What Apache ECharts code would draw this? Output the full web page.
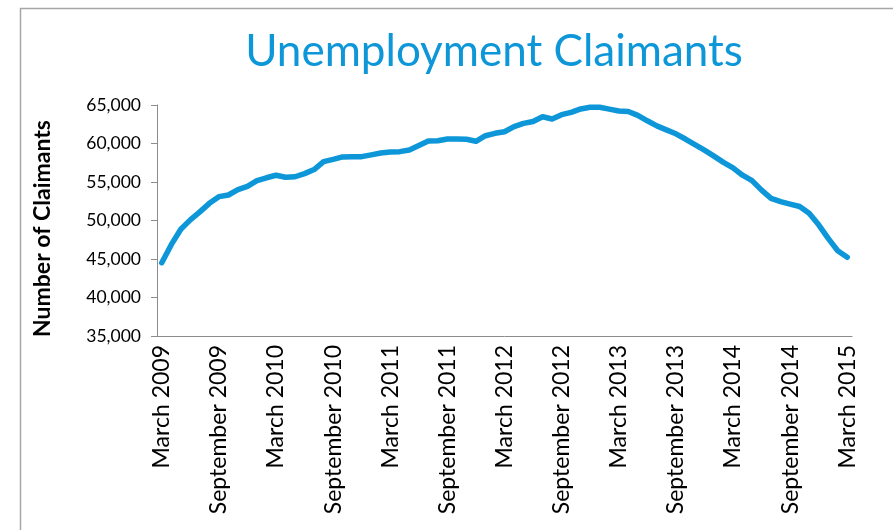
<!DOCTYPE html>
<html><head><meta charset="utf-8">
<script src="https://cdn.jsdelivr.net/npm/echarts@6/dist/echarts.min.js"></script>
<style>html,body{margin:0;padding:0;background:#fff}#c{width:893px;height:530px}</style>
</head><body><div id="c"></div>
<script>
const months = [
 'March 2009','April 2009','May 2009','June 2009','July 2009','August 2009','September 2009','October 2009','November 2009','December 2009','January 2010','February 2010',
 'March 2010','April 2010','May 2010','June 2010','July 2010','August 2010','September 2010','October 2010','November 2010','December 2010','January 2011','February 2011',
 'March 2011','April 2011','May 2011','June 2011','July 2011','August 2011','September 2011','October 2011','November 2011','December 2011','January 2012','February 2012',
 'March 2012','April 2012','May 2012','June 2012','July 2012','August 2012','September 2012','October 2012','November 2012','December 2012','January 2013','February 2013',
 'March 2013','April 2013','May 2013','June 2013','July 2013','August 2013','September 2013','October 2013','November 2013','December 2013','January 2014','February 2014',
 'March 2014','April 2014','May 2014','June 2014','July 2014','August 2014','September 2014','October 2014','November 2014','December 2014','January 2015','February 2015',
 'March 2015'
];
const claimants = [
 44520, 46860, 48860, 50080, 51120, 52230, 53100, 53310, 54010, 54440, 55180, 55550,
 55880, 55610, 55680, 56090, 56620, 57650, 57940, 58260, 58290, 58290, 58520, 58770,
 58900, 58940, 59160, 59740, 60330, 60350, 60580, 60580, 60550, 60290, 61010, 61320,
 61530, 62200, 62620, 62860, 63470, 63180, 63740, 64040, 64490, 64700, 64700, 64470,
 64220, 64160, 63650, 62950, 62290, 61770, 61260, 60580, 59860, 59130, 58360, 57550,
 56830, 55880, 55180, 53940, 52870, 52440, 52120, 51820, 50940, 49440, 47680, 46070,
 45220
];
const yMin = 35000, yMax = 65000, yStep = 5000;
const titleText = 'Unemployment Claimants';
const yName = 'Number of Claimants';

const chart = echarts.init(document.getElementById('c'), null, {renderer: 'canvas'});
const gray = '#8c8c8c';
chart.setOption({
  animation: false,
  backgroundColor: '#fff',
  title: {
    text: titleText, left: 489, top: 25, textAlign: 'center',
    textStyle: {fontFamily: 'Lato', fontSize: 44, fontWeight: 'normal', color: '#0d96d8'}
  },
  graphic: [{
    type: 'rect', silent: true, left: 18, top: 6,
    shape: {x: 0, y: 0, width: 900, height: 600},
    style: {fill: 'none', stroke: '#a6a6a6', lineWidth: 1.5}
  }],
  grid: {left: 157, right: 41, top: 105, bottom: 194},
  xAxis: [{
    type: 'category', data: months, boundaryGap: true,
    axisLine: {lineStyle: {color: gray, width: 1}},
    axisTick: {interval: 0, length: 4, lineStyle: {color: gray}},
    axisLabel: {interval: 5, rotate: 90, fontFamily: 'Lato', fontSize: 23, color: '#000', margin: 9}
  }, {
    type: 'category', data: months, boundaryGap: true, position: 'bottom',
    axisLine: {show: false},
    axisTick: {interval: 5, length: 8, lineStyle: {color: gray}},
    axisLabel: {show: false}
  }],
  yAxis: {
    type: 'value', min: yMin, max: yMax, interval: yStep,
    axisLine: {show: true, lineStyle: {color: gray, width: 1}},
    axisTick: {show: true, length: 6, lineStyle: {color: gray}},
    splitLine: {show: false},
    axisLabel: {fontFamily: 'Lato', fontSize: 17.5, color: '#000', margin: 16,
      formatter: v => v.toLocaleString('en-US')},
    name: yName, nameLocation: 'middle', nameRotate: 90, nameGap: 103,
    nameTextStyle: {fontFamily: 'Lato', fontSize: 23, fontWeight: 'bold', color: '#000',
      padding: [0, 16, 0, 0]}
  },
  series: [{
    type: 'line', data: claimants, xAxisIndex: 0, showSymbol: false, symbol: 'none',
    lineStyle: {color: '#0d96d8', width: 5.5, cap: 'round', join: 'round'}
  }]
});
</script>
</body></html>
